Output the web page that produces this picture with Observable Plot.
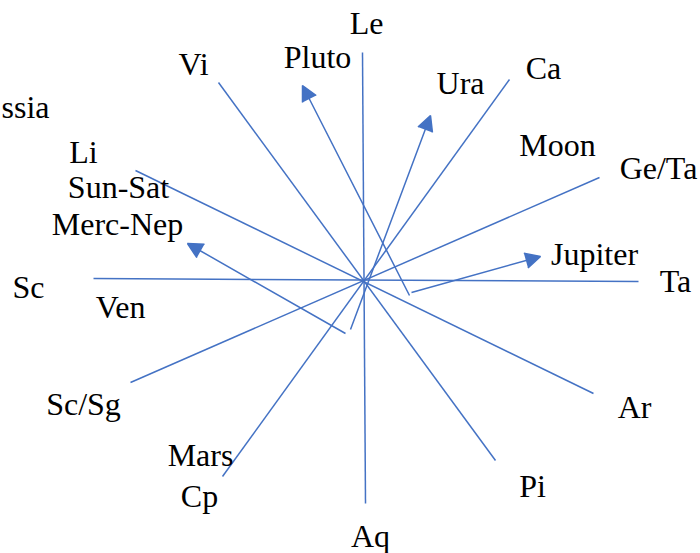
<!DOCTYPE html>
<html>
<head>
<meta charset="utf-8">
<script src="https://cdn.jsdelivr.net/npm/d3@7"></script>
<script src="https://cdn.jsdelivr.net/npm/@observablehq/plot@0.6"></script>
<style>
  html, body { margin: 0; padding: 0; background: #fff; }
  #chart svg { display: block; }
</style>
</head>
<body>
<div id="chart"></div>
<script>
// Coordinates are relative to the hub of the wheel (x to the right, y upward).
// Sign axes: each line joins two opposite sign ends.
const axisStartX = [-3, -147, 144, 234, 273, -230];
const axisStartY = [227, 197, 200, 102, -2, 109];
const axisEndX   = [0, 130, -143, -235, -272, 228];
const axisEndY   = [-224, -181, -197, -103, 1, -114];

// Planet arrows (tail -> head)
const arrowNames  = ["Pluto", "Ura", "Jupiter", "Merc-Nep"];
const arrowTailX  = [44, -15, 46, -20];
const arrowTailY  = [-16, -50, -13, -54];
const arrowHeadX  = [-63, 65, 175, -178];
const arrowHeadY  = [194, 164, 23, 36];

// Labels (x centre, baseline y)
const labelText = ["Le", "Pluto", "Ura", "Vi", "Ca", "Moon", "Ge/Ta", "Jupiter", "Ta", "Ar", "Pi", "Aq",
                   "Cp", "Mars", "Sc/Sg", "Ven", "Sc", "Merc-Nep", "Sun-Sat", "Li"];
const labelX = [1, -48, 95, -172, 178, 192, 293, 229, 310, 269, 167, 5,
                -166, -165, -282, -245, -337, -248, -247, -282];
const labelY = [246, 212, 186, 205, 201, 124, 101, 15, -12, -138, -217, -267,
                -227, -186, -135, -38, -18, 45, 82, 117];

// Label at the left edge (left end x, baseline y)
const edgeText = ["ssia"];
const edgeX = [-364];
const edgeY = [162];

const blue = "#4472C4";

const axes = axisStartX.map((_, i) => ({x1: axisStartX[i], y1: axisStartY[i], x2: axisEndX[i], y2: axisEndY[i]}));
const arrows = arrowNames.map((n, i) => ({name: n, x1: arrowTailX[i], y1: arrowTailY[i], x2: arrowHeadX[i], y2: arrowHeadY[i]}));
const labels = labelText.map((t, i) => ({text: t, x: labelX[i], y: labelY[i]}));
const edges = edgeText.map((t, i) => ({text: t, x: edgeX[i], y: edgeY[i]}));

const chart = Plot.plot({
  width: 700,
  height: 553,
  margin: 0,
  x: {domain: [-365, 335], axis: null},
  y: {domain: [-274, 279], axis: null},
  style: {background: "#fff", fontFamily: "'Liberation Serif', 'Times New Roman', serif"},
  marks: [
    Plot.link(axes, {x1: "x1", y1: "y1", x2: "x2", y2: "y2", stroke: blue, strokeWidth: 1.5}),
    Plot.arrow(arrows, {x1: "x1", y1: "y1", x2: "x2", y2: "y2", stroke: blue, fill: blue,
      strokeWidth: 1.5, headLength: 17, headAngle: 54, strokeLinejoin: "miter", strokeLinecap: "butt"}),
    Plot.text(labels, {x: "x", y: "y", text: "text", fontSize: 32, lineAnchor: "bottom", textAnchor: "middle", fill: "#000"}),
    Plot.text(edges, {x: "x", y: "y", text: "text", fontSize: 32, lineAnchor: "bottom", textAnchor: "start", fill: "#000"})
  ]
});
document.getElementById("chart").appendChild(chart);
</script>
</body>
</html>
